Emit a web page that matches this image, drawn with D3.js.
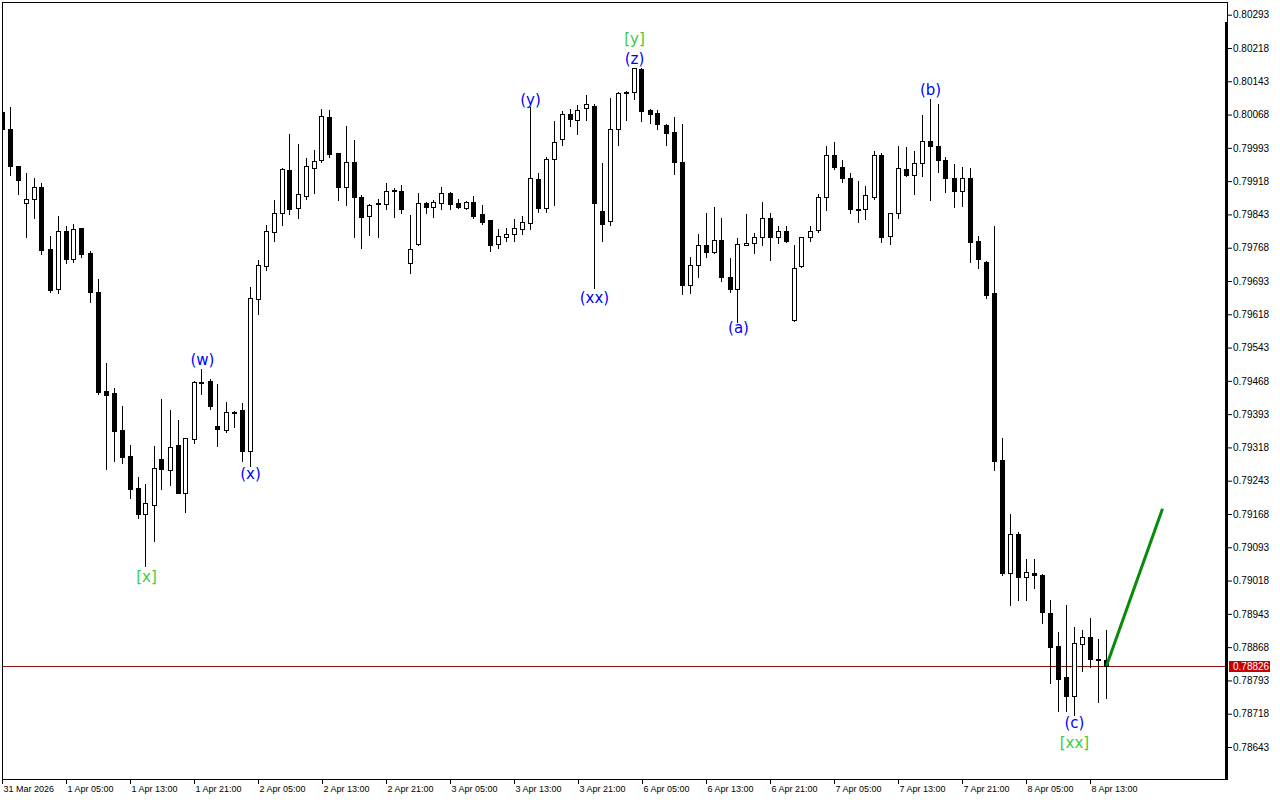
<!DOCTYPE html>
<html><head><meta charset="utf-8">
<script src="https://cdn.jsdelivr.net/npm/d3@7"></script>
<style>
html,body{margin:0;padding:0;background:#fff;}
svg{display:block;}
</style></head>
<body>
<svg id="chart" width="1280" height="800"></svg>
<script>
// ---------- DATA (hourly candles, index 0 = 31 Mar 2026 21:00) ----------
const open = [0.80074,0.80035,0.79952,0.79868,0.79877,0.79904,0.79764,0.79674,0.79805,0.79743,
0.79812,0.79755,0.79668,0.79445,0.79440,0.79357,0.79299,0.79227,0.79169,0.79188,
0.79291,0.79267,0.79323,0.79216,0.79338,0.79465,0.79468,0.79366,0.79357,0.79398,
0.79402,0.79311,0.79652,0.79727,0.79804,0.79846,0.79943,0.79857,0.79885,0.79948,
0.79965,0.80062,0.79981,0.79905,0.79961,0.79882,0.79840,0.79868,0.79866,0.79898,
0.79896,0.79733,0.79776,0.79868,0.79860,0.79869,0.79891,0.79868,0.79858,0.79870,
0.79844,0.79830,0.79776,0.79793,0.79800,0.79811,0.79824,0.79922,0.79857,0.79967,
0.80012,0.80069,0.80055,0.80083,0.80087,0.79850,0.79829,0.80035,0.80119,0.80118,
0.80171,0.80078,0.80071,0.80045,0.80028,0.79961,0.79684,0.79728,0.79774,0.79758,
0.79785,0.79702,0.79675,0.79776,0.79778,0.79792,0.79834,0.79792,0.79806,0.79604,
0.79726,0.79791,0.79808,0.79883,0.79978,0.79950,0.79924,0.79856,0.79856,0.79883,
0.79978,0.79795,0.79846,0.79945,0.79931,0.79958,0.80008,0.79997,0.79966,0.79926,
0.79895,0.79924,0.79783,0.79736,0.79665,0.79290,0.79035,0.79123,0.79027,0.79035,
0.79031,0.78945,0.78871,0.78801,0.78757,0.78876,0.78890,0.78841,0.78839];
const high = [0.80085,0.80086,0.79953,0.79936,0.79924,0.79913,0.79794,0.79840,0.79817,0.79821,
0.79813,0.79760,0.79697,0.79508,0.79451,0.79411,0.79324,0.79252,0.79236,0.79321,
0.79426,0.79402,0.79380,0.79340,0.79468,0.79494,0.79472,0.79462,0.79420,0.79401,
0.79417,0.79680,0.79740,0.79819,0.79876,0.79947,0.80024,0.80002,0.79970,0.79988,
0.80081,0.80078,0.79982,0.80042,0.80011,0.79886,0.79866,0.79878,0.79913,0.79902,
0.79909,0.79842,0.79891,0.79870,0.79876,0.79904,0.79894,0.79878,0.79873,0.79885,
0.79864,0.79831,0.79810,0.79813,0.79832,0.79840,0.80084,0.79936,0.79973,0.80054,
0.80075,0.80080,0.80090,0.80111,0.80092,0.79958,0.80106,0.80118,0.80120,0.80174,
0.80173,0.80081,0.80078,0.80046,0.80062,0.80046,0.79746,0.79799,0.79846,0.79859,
0.79836,0.79744,0.79790,0.79845,0.79802,0.79871,0.79846,0.79818,0.79816,0.79773,
0.79793,0.79818,0.79888,0.79998,0.80006,0.79966,0.79936,0.79918,0.79907,0.79987,
0.79981,0.79847,0.79998,0.79996,0.79987,0.80066,0.80102,0.80091,0.79972,0.79957,
0.79949,0.79947,0.79794,0.79737,0.79816,0.79340,0.79169,0.79128,0.79066,0.79067,
0.79032,0.78975,0.78902,0.78962,0.78914,0.78906,0.78934,0.78886,0.78906];
const low = [0.80033,0.79932,0.79889,0.79793,0.79836,0.79754,0.79669,0.79667,0.79733,0.79736,
0.79748,0.79646,0.79438,0.79270,0.79288,0.79284,0.79203,0.79158,0.79051,0.79108,
0.79225,0.79233,0.79215,0.79173,0.79329,0.79438,0.79405,0.79321,0.79353,0.79365,
0.79288,0.79276,0.79619,0.79718,0.79782,0.79819,0.79844,0.79836,0.79878,0.79892,
0.79960,0.79973,0.79876,0.79865,0.79793,0.79768,0.79797,0.79791,0.79855,0.79837,
0.79847,0.79712,0.79775,0.79847,0.79837,0.79856,0.79856,0.79857,0.79856,0.79835,
0.79822,0.79761,0.79768,0.79782,0.79784,0.79799,0.79810,0.79849,0.79849,0.79865,
0.79999,0.80043,0.80025,0.80056,0.79678,0.79782,0.79819,0.79999,0.80056,0.80102,
0.80054,0.80048,0.80035,0.79999,0.79934,0.79663,0.79665,0.79702,0.79748,0.79755,
0.79693,0.79668,0.79601,0.79774,0.79755,0.79774,0.79740,0.79778,0.79781,0.79603,
0.79725,0.79783,0.79803,0.79854,0.79945,0.79917,0.79846,0.79826,0.79833,0.79877,
0.79780,0.79776,0.79836,0.79930,0.79888,0.79929,0.79875,0.79939,0.79894,0.79860,
0.79861,0.79736,0.79722,0.79654,0.79268,0.79031,0.78964,0.78975,0.78975,0.79001,
0.78923,0.78788,0.78723,0.78725,0.78716,0.78814,0.78824,0.78745,0.78753];
const close = [0.80036,0.79952,0.79921,0.79878,0.79904,0.79763,0.79673,0.79805,0.79743,0.79810,
0.79754,0.79668,0.79444,0.79436,0.79356,0.79297,0.79225,0.79169,0.79192,0.79271,
0.79269,0.79320,0.79216,0.79339,0.79465,0.79463,0.79412,0.79360,0.79397,0.79397,
0.79311,0.79654,0.79729,0.79805,0.79846,0.79945,0.79856,0.79888,0.79951,0.79963,
0.80065,0.79980,0.79905,0.79961,0.79882,0.79838,0.79864,0.79866,0.79896,0.79896,
0.79856,0.79764,0.79868,0.79860,0.79870,0.79891,0.79867,0.79860,0.79871,0.79840,
0.79827,0.79773,0.79794,0.79800,0.79812,0.79825,0.79924,0.79857,0.79968,0.80006,
0.80069,0.80057,0.80078,0.80091,0.79869,0.79822,0.80035,0.80116,0.80117,0.80172,
0.80077,0.80070,0.80046,0.80027,0.79960,0.79683,0.79729,0.79775,0.79758,0.79785,
0.79703,0.79675,0.79776,0.79778,0.79793,0.79834,0.79792,0.79806,0.79783,0.79722,
0.79791,0.79806,0.79882,0.79978,0.79949,0.79924,0.79855,0.79854,0.79886,0.79978,
0.79792,0.79846,0.79947,0.79931,0.79958,0.80008,0.79997,0.79965,0.79925,0.79895,
0.79924,0.79781,0.79742,0.79662,0.79288,0.79035,0.79123,0.79027,0.79037,0.79031,
0.78948,0.78869,0.78797,0.78757,0.78878,0.78890,0.78841,0.78839,0.78826];

const timeTickIndex = [0,8,16,24,32,40,48,56,64,72,80,88,96,104,112,120,128,136];
const timeTickLabels = ["31 Mar 2026","1 Apr 05:00","1 Apr 13:00","1 Apr 21:00","2 Apr 05:00",
"2 Apr 13:00","2 Apr 21:00","3 Apr 05:00","3 Apr 13:00","3 Apr 21:00","6 Apr 05:00","6 Apr 13:00",
"6 Apr 21:00","7 Apr 05:00","7 Apr 13:00","7 Apr 21:00","8 Apr 05:00","8 Apr 13:00"];
const priceTicks = [0.80293,0.80218,0.80143,0.80068,0.79993,0.79918,0.79843,0.79768,0.79693,
0.79618,0.79543,0.79468,0.79393,0.79318,0.79243,0.79168,0.79093,0.79018,0.78943,0.78868,
0.78793,0.78718,0.78643];
const bidPrice = 0.78826;

const waveText  = ["[x]","(w)","(x)","(y)","(xx)","[y]","(z)","(a)","(b)","(c)","[xx]"];
const waveIndex = [18,25,31,66,74,79,79,92,116,134,134];
const wavePrice = [0.79026,0.79515,0.79258,0.80101,0.79655,0.80238,0.80193,0.79587,0.80123,0.78697,0.78652];
const waveDegree = ["major","minor","minor","minor","minor","major","minor","minor","minor","minor","major"];

const forecastIndex = [138,145];
const forecastPrice = [0.78826,0.79180];

// ---------- DRAWING ----------
const svg = d3.select("#chart");
const plotL = 2, plotT = 2, plotR = 1227, plotB = 779;

const x = d3.scaleLinear().domain([0,150]).range([2,1202]);
const y = d3.scaleLinear().domain([0.80293,0.78643]).range([14.7,747]);

svg.append("rect").attr("width",1280).attr("height",800).attr("fill","#fff");

svg.append("defs").append("clipPath").attr("id","plotclip")
  .append("rect").attr("x",plotL+1).attr("y",plotT+1).attr("width",plotR-plotL-1).attr("height",plotB-plotT-1);

const plot = svg.append("g").attr("clip-path","url(#plotclip)");

// bid line
plot.append("line")
  .attr("x1",plotL).attr("x2",plotR)
  .attr("y1",Math.round(y(bidPrice))+0.5).attr("y2",Math.round(y(bidPrice))+0.5)
  .attr("stroke","#8c1010").attr("stroke-width",1);

const candles = d3.range(open.length).map(i=>({i,o:open[i],h:high[i],l:low[i],c:close[i]}));
const cg = plot.append("g");
candles.forEach(d=>{
  const cx = Math.floor(x(d.i));
  const yh = Math.round(y(d.h)), yl = Math.round(y(d.l));
  const top = Math.round(y(Math.max(d.o,d.c))), bot = Math.round(y(Math.min(d.o,d.c)));
  cg.append("line").attr("x1",cx+0.5).attr("x2",cx+0.5).attr("y1",yh).attr("y2",yl+1)
    .attr("stroke","#000").attr("stroke-width",1);
  if (d.c > d.o) {
    const h = Math.max(bot-top,2);
    cg.append("rect").attr("x",cx-1.5).attr("y",top+0.5).attr("width",4).attr("height",h)
      .attr("fill","#fff").attr("stroke","#000").attr("stroke-width",1);
  } else {
    cg.append("rect").attr("x",cx-2).attr("y",top).attr("width",5).attr("height",Math.max(bot-top,1)+1)
      .attr("fill","#000");
  }
});

// forecast line
plot.append("line")
  .attr("x1",x(forecastIndex[0])+0.5).attr("y1",y(forecastPrice[0]))
  .attr("x2",x(forecastIndex[1])+0.5).attr("y2",y(forecastPrice[1]))
  .attr("stroke","#0a8a0a").attr("stroke-width",3);

// wave labels
plot.selectAll("text.wave").data(waveText).enter().append("text")
  .attr("class","wave")
  .attr("x",(d,i)=>x(waveIndex[i])+0.5)
  .attr("y",(d,i)=>y(wavePrice[i]))
  .attr("text-anchor","middle").attr("dominant-baseline","central")
  .attr("font-family","DejaVu Sans, Verdana, sans-serif").attr("font-size",15)
  .attr("fill",(d,i)=>waveDegree[i]==="major"?"#3ccc3c":"#0000ff")
  .text(d=>d);

// frame
svg.append("rect").attr("x",plotL+0.5).attr("y",plotT+0.5)
  .attr("width",plotR-plotL).attr("height",plotB-plotT)
  .attr("fill","none").attr("stroke","#000").attr("stroke-width",1);
svg.append("rect").attr("x",1225).attr("y",22).attr("width",3).attr("height",plotB-22+1).attr("fill","#000");

// price axis
const yAxis = d3.axisRight(y).tickValues(priceTicks).tickSize(4).tickFormat(d3.format(".5f"));
const ya = svg.append("g").attr("transform","translate(1228,0)").call(yAxis);
ya.select(".domain").remove();
ya.selectAll(".tick line").attr("stroke","#000");
ya.selectAll(".tick text").attr("x",5).attr("fill","#000")
  .attr("font-family","Liberation Sans, Arial, sans-serif").attr("font-size",10);

// bid label
const by = Math.round(y(bidPrice));
svg.append("rect").attr("x",1229).attr("y",by-5).attr("width",41).attr("height",11).attr("fill","#c80000");
svg.append("text").attr("x",1233).attr("y",by+0.5).attr("dominant-baseline","central")
  .attr("font-family","Liberation Sans, Arial, sans-serif").attr("font-size",10)
  .attr("fill","#fff").text(d3.format(".5f")(bidPrice));

// time axis
const xAxis = d3.axisBottom(x).tickValues(timeTickIndex).tickSize(5)
  .tickFormat((d,i)=>timeTickLabels[i]);
const xa = svg.append("g").attr("transform",`translate(0,${plotB})`).call(xAxis);
xa.select(".domain").remove();
xa.selectAll(".tick line").attr("stroke","#000");
xa.selectAll(".tick text").attr("text-anchor","start").attr("x",1).attr("y",13).attr("dy",0)
  .attr("fill","#000").attr("font-family","Liberation Sans, Arial, sans-serif").attr("font-size",9);
</script>
</body></html>
